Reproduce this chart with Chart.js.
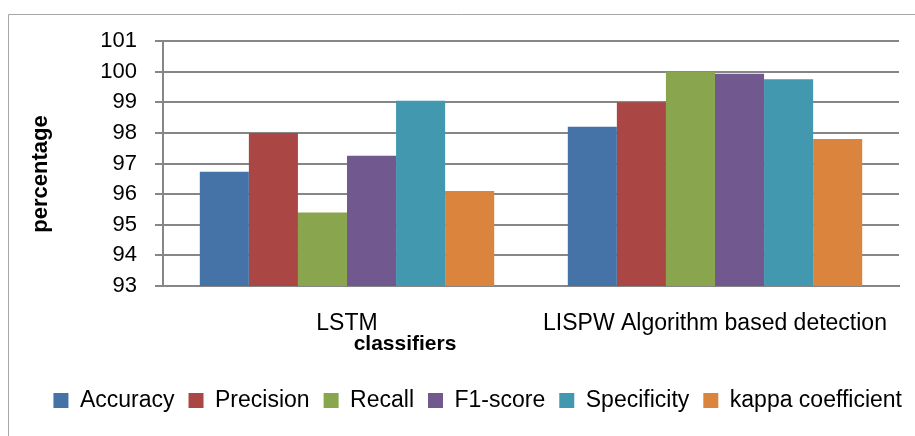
<!DOCTYPE html>
<html>
<head>
<meta charset="utf-8">
<script src="https://cdn.jsdelivr.net/npm/chart.js@4"></script>
<style>
html,body{margin:0;padding:0;background:#fff;}
#wrap{width:915px;height:436px;}
</style>
</head>
<body>
<div id="wrap"><canvas id="c" width="915" height="436"></canvas></div>
<script>
const categories = ["LSTM", "LISPW Algorithm based detection"];
const seriesNames = ["Accuracy", "Precision", "Recall", "F1-score", "Specificity", "kappa coefficient"];
const accuracy = [96.73, 98.2];
const precision = [98.0, 99.0];
const recall = [95.4, 100.0];
const f1score = [97.25, 99.93];
const specificity = [99.05, 99.75];
const kappa = [96.1, 97.8];
const yTicks = [93, 94, 95, 96, 97, 98, 99, 100, 101];
const xTitle = "classifiers";
const yTitle = "percentage";

const colors = ["#4572A7", "#AA4643", "#89A54E", "#71588F", "#4198AF", "#DB843D"];
const seriesValues = [accuracy, precision, recall, f1score, specificity, kappa];
const FONT = "'Liberation Sans', Arial, sans-serif";

const decor = {
  id: 'decor',
  afterLayout(chart) {
    if (chart.legend) { chart.legend.left += 17; chart.legend.right += 17; }
  },
  beforeDraw(chart) {
    const ctx = chart.ctx;
    ctx.save();
    ctx.strokeStyle = '#a6a6a6';
    ctx.lineWidth = 1;
    ctx.beginPath();
    ctx.moveTo(8.5, 436); ctx.lineTo(8.5, 14.5); ctx.lineTo(915, 14.5);
    ctx.stroke();
    ctx.restore();
  },
  afterDraw(chart) {
    const ctx = chart.ctx;
    ctx.save();
    ctx.fillStyle = '#000';
    ctx.font = "bold 21px " + FONT;
    ctx.textAlign = 'center';
    ctx.textBaseline = 'alphabetic';
    ctx.fillText(xTitle, 405, 350);
    ctx.font = "bold 22px " + FONT;
    ctx.translate(47, 174);
    ctx.rotate(-Math.PI / 2);
    ctx.fillText(yTitle, 0, 0);
    ctx.restore();
  }
};

new Chart(document.getElementById('c'), {
  type: 'bar',
  data: {
    labels: categories,
    datasets: seriesNames.map((n, i) => ({
      label: n,
      data: seriesValues[i],
      backgroundColor: colors[i],
      borderWidth: 0,
      categoryPercentage: 0.8,
      barPercentage: 1.0
    }))
  },
  options: {
    responsive: false,
    animation: false,
    layout: { padding: { left: 8, right: 16, top: 41, bottom: 14 } },
    plugins: {
      legend: {
        position: 'bottom',
        align: 'end',
        labels: {
          boxWidth: 15, boxHeight: 15, padding: 14,
          color: '#000',
          font: { family: FONT, size: 23 }
        }
      },
      tooltip: { enabled: false },
      title: { display: false }
    },
    scales: {
      x: {
        grid: { display: false },
        border: { display: true, color: '#868686', width: 2 },
        ticks: { color: '#000', font: { family: FONT, size: 23 }, padding: 16, maxRotation: 0 },
        afterFit(scale) { scale.height = 89; }
      },
      y: {
        min: 93, max: 101,
        afterBuildTicks(scale) { scale.ticks = yTicks.map(v => ({ value: v })); },
        grid: { color: '#868686', lineWidth: 2, tickLength: 8, drawTicks: true },
        border: { display: true, color: '#868686', width: 2 },
        ticks: { color: '#000', font: { family: FONT, size: 22 }, padding: 18 },
        afterFit(scale) { scale.width = 155; }
      }
    }
  },
  plugins: [decor]
});
</script>
</body>
</html>
